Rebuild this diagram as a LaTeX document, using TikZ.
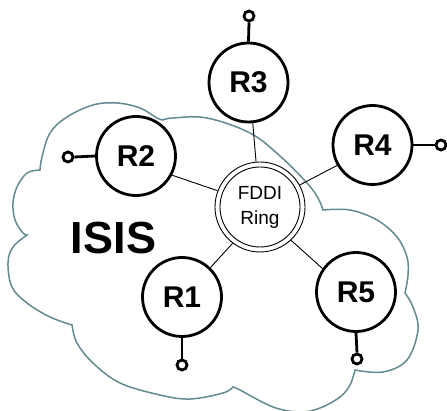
\documentclass[tikz,border=0pt]{standalone}
\usepackage{fontspec}
\setmainfont{Liberation Sans}
\definecolor{cloudline}{RGB}{98,138,143}
\tikzset{
  router/.style={circle, draw, line width=2.8pt, fill=white, minimum size=79pt, inner sep=0pt,
                 font=\fontsize{30}{32}\selectfont\bfseries},
  term/.style={circle, draw, line width=2.8pt, fill=white, minimum size=10pt, inner sep=0pt},
  stub/.style={line width=2.8pt},
  link/.style={line width=0.9pt},
  cloud/.style={draw=cloudline, line width=1.5pt, smooth, tension=0.6},
  ring/.style={circle, draw, line width=0.9pt, fill=white, minimum size=90pt, inner sep=0pt,
               align=center, font=\fontsize{19}{25}\selectfont}
}
\begin{document}
\begin{tikzpicture}[x=1pt, y=-1pt]
\useasboundingbox (0,0) rectangle (447,411);

% ISIS cloud, one smooth plot per lobe so the notches stay sharp
\draw[cloud]
  plot coordinates {(40,170) (42,157) (50,133) (67,117) (93,105) (117,103) (140,108) (157,118) (163,120)}
  -- plot coordinates {(163,120) (173,118) (207,118) (250,133) (280,156) (307,183) (318,198) (323,210)}
  -- plot coordinates {(323,210) (350,210) (377,220) (397,237) (407,257) (408,275) (405,293)}
  -- plot coordinates {(405,293) (413,307) (418,330) (407,360) (383,372) (355,370)}
  -- plot coordinates {(355,370) (350,385) (340,397) (320,408) (300,412) (273,407) (240,390) (233,387)}
  -- plot coordinates {(233,387) (223,393) (190,399) (160,395) (120,383) (93,363) (77,343) (72,325)}
  -- plot coordinates {(72,325) (50,317) (27,303) (12,287) (8,263) (13,247) (27,235)}
  -- plot coordinates {(27,235) (23,233) (15,220) (13,203) (17,187) (27,173) (40,170)}
  -- cycle;

\node[font=\fontsize{45}{50}\selectfont\bfseries] (isis) at (113.5,238.5) {ISIS};

% FDDI ring: outer circle is the node, inner circle drawn inside it
\node[ring] (F) at (260,207) {FDDI\\Ring};
\draw[line width=0.9pt] (F.center) circle[radius=40];

% routers
\node[router] (R3) at (248.5,82.5) {R3};
\node[router] (R2) at (136,156) {R2};
\node[router] (R4) at (372.5,145) {R4};
\node[router] (R1) at (182,297) {R1};
\node[router] (R5) at (356,292) {R5};

% links to the ring
\draw[link] (R3.-84) -- (F.95);
\draw[link] (R2.-28) -- (F.159);
\draw[link] (R4.210) -- (F.29);
\draw[link] (R1.46) -- (F.233);
\draw[link] (R5.145) -- (F.-47);

% stub interfaces
\node[term] (t3) at (249,16) {};
\node[term] (t2) at (68,157) {};
\node[term] (t4) at (441,145) {};
\node[term] (t1) at (182,365) {};
\node[term] (t5) at (357,359) {};
\draw[stub] (R3.north) -- (t3.south);
\draw[stub] (R2.west) -- (t2.east);
\draw[stub] (R4.east) -- (t4.west);
\draw[stub] (R1.south) -- (t1.north);
\draw[stub] (R5.south) -- (t5.north);
\end{tikzpicture}
\end{document}
